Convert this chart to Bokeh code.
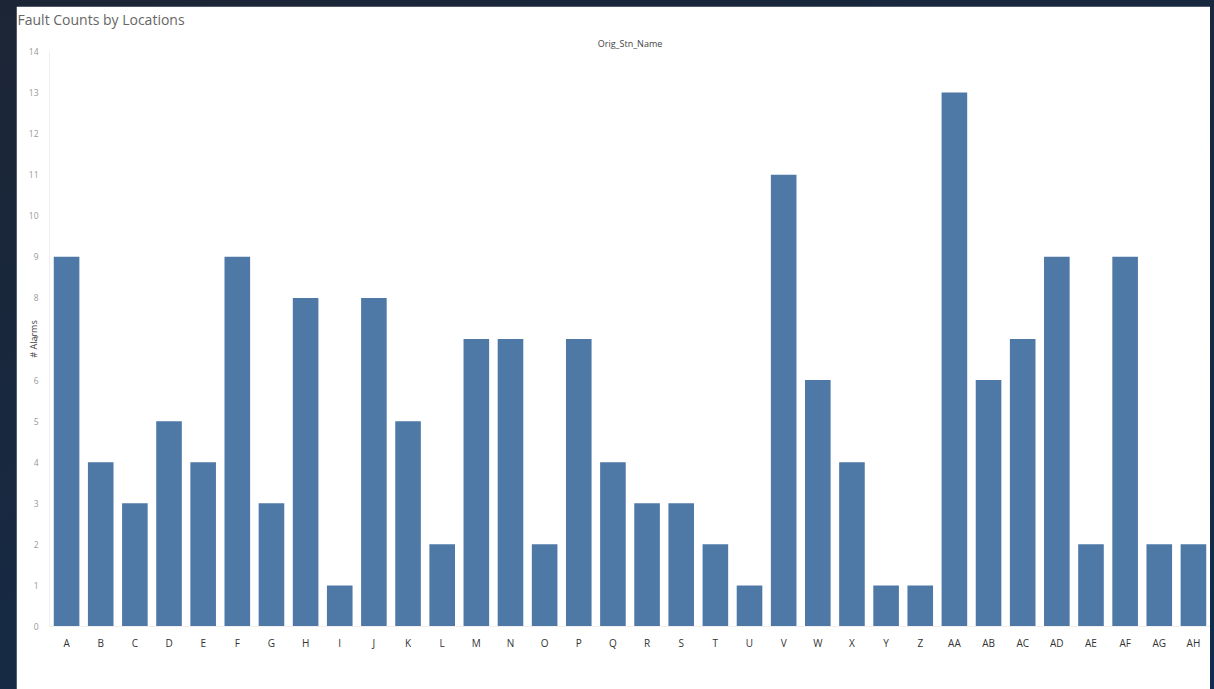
from bokeh.plotting import figure
from bokeh.models import FixedTicker, Title, FactorRange, Range1d
from bokeh.layouts import column
from bokeh.embed import file_html
from bokeh.resources import INLINE

locations = ["A", "B", "C", "D", "E", "F", "G", "H", "I", "J", "K", "L", "M", "N", "O", "P",
             "Q", "R", "S", "T", "U", "V", "W", "X", "Y", "Z", "AA", "AB", "AC", "AD", "AE", "AF",
             "AG", "AH"]
alarms = [9, 4, 3, 5, 4, 9, 3, 8, 1, 8, 5, 2, 7, 7, 2, 7,
          4, 3, 3, 2, 1, 11, 6, 4, 1, 1, 13, 6, 7, 9, 2, 9,
          2, 2]
y_ticks = list(range(0, 15))

p = figure(x_range=FactorRange(*locations, range_padding=0), y_range=Range1d(0, 14),
           width=1194, height=683, output_backend="svg", toolbar_location=None,
           title=None, min_border_left=33, min_border_right=0, min_border_top=0,
           min_border_bottom=63, border_fill_color="white", background_fill_color="white")
p.outline_line_color = "white"
p.outline_line_width = 2
p.margin = (6, 4, 0, 16)

p.vbar(x=locations, top=alarms, width=0.75, color="#4e79a7", line_color=None)

p.xgrid.grid_line_color = None
p.ygrid.grid_line_color = None

p.yaxis.ticker = FixedTicker(ticks=y_ticks)
p.yaxis.axis_label = "# Alarms"
p.yaxis.axis_label_text_font = "Open Sans"
p.yaxis.axis_label_text_font_size = "9px"
p.yaxis.axis_label_text_font_style = "normal"
p.yaxis.axis_label_text_color = "#444444"
p.yaxis.axis_label_standoff = -14
p.yaxis.major_label_text_font = "Open Sans"
p.yaxis.major_label_text_font_size = "8.5px"
p.yaxis.major_label_text_color = "#999999"
p.yaxis.major_label_standoff = 5
p.yaxis.major_tick_line_color = None
p.yaxis.minor_tick_line_color = None
p.yaxis.axis_line_color = "#eeeeee"

p.xaxis.major_label_text_font = "Open Sans"
p.xaxis.major_label_text_font_size = "10px"
p.xaxis.major_label_text_color = "#333333"
p.xaxis.major_label_standoff = 3
p.xaxis.major_tick_line_color = None
p.xaxis.axis_line_color = "#eeeeee"

p.add_layout(Title(text="Orig_Stn_Name", align="center", text_font="Open Sans",
                   text_font_size="9px", text_font_style="normal", text_color="#444444",
                   standoff=3), "above")
p.add_layout(Title(text="Fault Counts by Locations", align="left", text_font="Open Sans",
                   text_font_size="14px", text_font_style="normal", text_color="#666666",
                   offset=-32, standoff=6, vertical_align="top"), "above")

layout = column(p, width=1214, height=689,
                styles={"background": "linear-gradient(160deg, #1c2535 0%, #162a44 60%, #112c4c 100%)"})

open("out.html", "w").write(file_html(layout, INLINE))
